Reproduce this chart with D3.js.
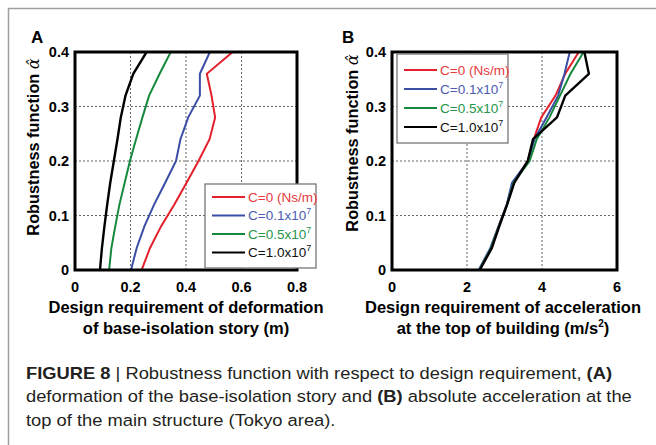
<!DOCTYPE html>
<html>
<head>
<meta charset="utf-8">
<script src="https://cdn.jsdelivr.net/npm/d3@7"></script>
<style>
  html, body { margin: 0; padding: 0; background: #fff; }
  svg { display: block; }
</style>
</head>
<body>
<svg id="fig" width="656" height="445"></svg>
<script>
// Robustness levels (shared y values)
const alphaLevels = [0, 0.04, 0.08, 0.12, 0.16, 0.2, 0.24, 0.28, 0.32, 0.36, 0.4];

// Panel A: deformation of base-isolation story (m)
const defC0   = [0.240, 0.270, 0.310, 0.358, 0.402, 0.445, 0.485, 0.505, 0.492, 0.475, 0.568];
const defC01  = [0.202, 0.222, 0.250, 0.285, 0.325, 0.364, 0.380, 0.408, 0.450, 0.450, 0.486];
const defC05  = [0.123, 0.131, 0.145, 0.160, 0.179, 0.198, 0.220, 0.243, 0.267, 0.305, 0.345];
const defC10  = [0.090, 0.097, 0.106, 0.116, 0.127, 0.140, 0.153, 0.165, 0.182, 0.210, 0.258];

// Panel B: acceleration at top of building (m/s^2)
const accC0   = [2.33, 2.64, 2.84, 3.06, 3.24, 3.62, 3.78, 3.98, 4.36, 4.62, 4.98];
const accC01  = [2.31, 2.62, 2.84, 3.06, 3.20, 3.63, 3.80, 4.12, 4.43, 4.60, 4.74];
const accC05  = [2.33, 2.64, 2.85, 3.07, 3.24, 3.67, 3.86, 4.20, 4.48, 4.76, 5.11];
const accC10  = [2.34, 2.66, 2.86, 3.07, 3.26, 3.62, 3.76, 4.40, 4.62, 5.25, 5.13];

const seriesNames = ["C=0 (Ns/m)", "C=0.1x10", "C=0.5x10", "C=1.0x10"];
const seriesSup = ["", "7", "7", "7"];
const lineColors = ["#e3202b", "#3a4ea6", "#16893d", "#000000"];
const textColors = ["#e63a40", "#4b5cb2", "#23964a", "#111111"];

const yTicks = [0, 0.1, 0.2, 0.3, 0.4];
const xTicksA = [0, 0.2, 0.4, 0.6, 0.8];
const xTicksB = [0, 2, 4, 6];

const svg = d3.select("#fig");
const FONT = "'Liberation Sans', Arial, Helvetica, sans-serif";

// figure frame (light grey border)
svg.append("line").attr("x1", 8).attr("x2", 656).attr("y1", 8.5).attr("y2", 8.5)
  .attr("stroke", "#a0a0a0").attr("stroke-width", 1.5);
svg.append("line").attr("x1", 8.5).attr("x2", 8.5).attr("y1", 8).attr("y2", 445)
  .attr("stroke", "#a0a0a0").attr("stroke-width", 1.5);

function drawPanel(opt) {
  const x = d3.scaleLinear().domain(opt.xDomain).range([opt.left, opt.right]);
  const y = d3.scaleLinear().domain([0, 0.4]).range([opt.bottom, opt.top]);
  const g = svg.append("g");

  const clipId = "clip" + opt.label;
  svg.append("clipPath").attr("id", clipId).append("rect")
    .attr("x", opt.left).attr("y", opt.top)
    .attr("width", opt.right - opt.left).attr("height", opt.bottom - opt.top);

  // grid
  g.selectAll(".gx").data(opt.xTicks.slice(1, -1)).enter().append("line")
    .attr("x1", d => x(d)).attr("x2", d => x(d))
    .attr("y1", opt.top).attr("y2", opt.bottom)
    .attr("stroke", "#555").attr("stroke-width", 0.9).attr("stroke-dasharray", "2,2");
  g.selectAll(".gy").data(yTicks.slice(1, -1)).enter().append("line")
    .attr("y1", d => y(d)).attr("y2", d => y(d))
    .attr("x1", opt.left).attr("x2", opt.right)
    .attr("stroke", "#555").attr("stroke-width", 0.9).attr("stroke-dasharray", "2,2");

  // series
  const line = d3.line().x(d => x(d[0])).y(d => y(d[1]));
  const lg = g.append("g").attr("clip-path", `url(#${clipId})`);
  opt.series.forEach((s, i) => {
    lg.append("path")
      .datum(s.map((v, k) => [v, alphaLevels[k]]))
      .attr("d", line)
      .attr("fill", "none")
      .attr("stroke", lineColors[i])
      .attr("stroke-width", i === 3 ? 2.4 : 2)
      .attr("stroke-linejoin", "miter");
  });

  // frame
  g.append("rect")
    .attr("x", opt.left).attr("y", opt.top)
    .attr("width", opt.right - opt.left).attr("height", opt.bottom - opt.top)
    .attr("fill", "none").attr("stroke", "#000").attr("stroke-width", 3);

  // tick labels
  g.selectAll(".tx").data(opt.xTicks).enter().append("text")
    .attr("x", d => x(d)).attr("y", opt.bottom + 22)
    .attr("text-anchor", "middle")
    .attr("font-family", FONT).attr("font-weight", "bold").attr("font-size", 14.5)
    .text(d => d3.format("~g")(d));
  g.selectAll(".ty").data(yTicks).enter().append("text")
    .attr("x", opt.left - 6).attr("y", d => y(d) + 5)
    .attr("text-anchor", "end")
    .attr("font-family", FONT).attr("font-weight", "bold").attr("font-size", 14.5)
    .text(d => d3.format("~g")(d));

  // panel letter
  g.append("text").attr("x", opt.letterX).attr("y", 43)
    .attr("font-family", FONT).attr("font-weight", "bold").attr("font-size", 17)
    .text(opt.label);

  // y title
  const yt = g.append("text")
    .attr("transform", `translate(${opt.yTitleX},${opt.yTitleY}) rotate(-90)`)
    .attr("text-anchor", "middle")
    .attr("font-family", FONT).attr("font-weight", "bold").attr("font-size", 16.3);
  yt.append("tspan").text("Robustness function ");
  yt.append("tspan").attr("font-family", "'DejaVu Serif', serif").attr("font-style", "italic")
    .attr("font-weight", "normal").attr("font-size", 16).text("\u03B1\u0302");

  // x title
  opt.xTitle.forEach((t, i) => {
    const tt = g.append("text")
      .attr("x", opt.xTitleX).attr("y", 313 + i * 21)
      .attr("text-anchor", "middle")
      .attr("font-family", FONT).attr("font-weight", "bold").attr("font-size", 16.5);
    tt.append("tspan").text(t[0]);
    if (t[1]) {
      tt.append("tspan").attr("font-size", 10).attr("dy", -7).text(t[1]);
      tt.append("tspan").attr("dy", 7).text(t[2]);
    }
  });

  // legend
  const L = opt.legend;
  g.append("rect").attr("x", L.x).attr("y", L.y).attr("width", L.w).attr("height", L.h)
    .attr("fill", "#fff").attr("stroke", "#777").attr("stroke-width", 1.3);
  seriesNames.forEach((name, i) => {
    const ry = L.y + L.row0 + i * L.step;
    g.append("line").attr("x1", L.x + 7).attr("x2", L.x + 40)
      .attr("y1", ry).attr("y2", ry)
      .attr("stroke", lineColors[i]).attr("stroke-width", 2.2);
    const tx = g.append("text").attr("x", L.x + 43).attr("y", ry + 4.5)
      .attr("font-family", FONT).attr("font-size", 13.5).attr("fill", textColors[i]);
    tx.append("tspan").text(name);
    if (seriesSup[i]) tx.append("tspan").attr("font-size", 9).attr("dy", -6).text(seriesSup[i]);
  });
}

drawPanel({
  label: "A", letterX: 31,
  left: 75, right: 297, top: 52, bottom: 270,
  xDomain: [0, 0.8], xTicks: xTicksA,
  series: [defC0, defC01, defC05, defC10],
  yTitleX: 39, yTitleY: 147,
  xTitle: [["Design requirement of deformation"], ["of base-isolation story (m)"]],
  xTitleX: 186,
  legend: { x: 205, y: 184, w: 111, h: 84, row0: 13, step: 18.5 }
});

drawPanel({
  label: "B", letterX: 342,
  left: 392, right: 617, top: 52, bottom: 270,
  xDomain: [0, 6], xTicks: xTicksB,
  series: [accC0, accC01, accC05, accC10],
  yTitleX: 358, yTitleY: 143,
  xTitle: [["Design requirement of acceleration"], ["at the top of building (m/s", "2", ")"]],
  xTitleX: 503,
  legend: { x: 397, y: 54, w: 111, h: 89, row0: 16, step: 19 }
});

// caption
const caption = [
  [["FIGURE 8", true], [" | Robustness function with respect to design requirement, ", false], ["(A)", true]],
  [["deformation of the base-isolation story and ", false], ["(B)", true], [" absolute acceleration at the", false]],
  [["top of the main structure (Tokyo area).", false]]
];
const capG = svg.append("g");
const capLines = caption.map((parts, i) => {
  const t = capG.append("text").attr("x", 0).attr("y", 379 + i * 23.3)
    .attr("font-family", FONT).attr("font-size", 16.3).attr("fill", "#231f20");
  parts.forEach(p => t.append("tspan").attr("font-weight", p[1] ? "bold" : "normal").text(p[0]));
  return t;
});
// stretch horizontally so line 1 spans the same width as in the figure
const w1 = capLines[0].node().getComputedTextLength();
const sx = 586 / w1;
capG.attr("transform", `translate(26,0) scale(${sx},1)`);
</script>
</body>
</html>
